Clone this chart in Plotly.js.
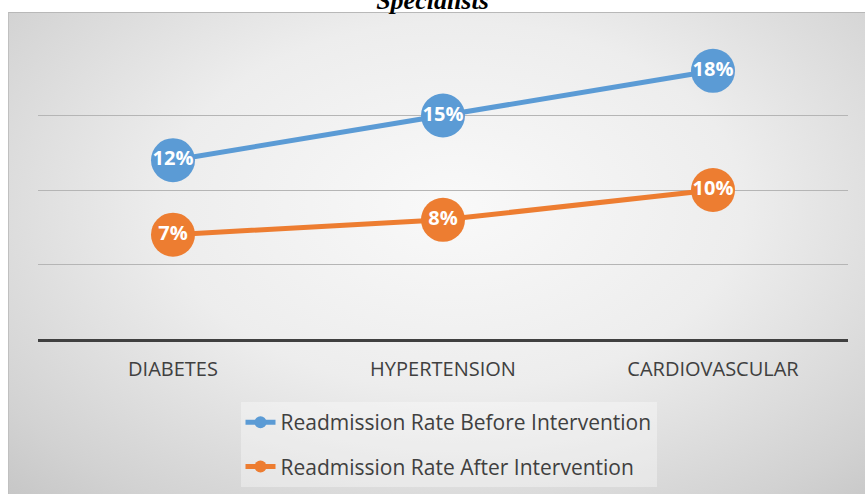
<!DOCTYPE html>
<html>
<head>
<meta charset="utf-8">
<script src="https://cdn.plot.ly/plotly-3.0.1.min.js"></script>
<style>
  html, body { margin: 0; padding: 0; background: #ffffff; }
  #wrap { position: relative; width: 865px; height: 494px; overflow: hidden; }
  #bg { position: absolute; left: 8px; top: 12px; width: 857px; height: 482px;
        background: radial-gradient(ellipse 75% 85% at 52% 40%, #f9f9f9 0%, #ededed 45%, #d2d2d2 85%, #c6c6c6 100%);
        border-top: 1px solid #b8b8b8; border-left: 1px solid #c0c0c0; box-sizing: border-box; }
  #chart { position: absolute; left: 0; top: 0; width: 865px; height: 494px; }
</style>
</head>
<body>
<div id="wrap">
  <div id="bg"></div>
  <div id="chart"></div>
</div>
<script>
const categories = ["DIABETES", "HYPERTENSION", "CARDIOVASCULAR"];
const beforeValues = [12, 15, 18];
const afterValues = [7, 8, 10];
const seriesNames = ["Readmission Rate Before Intervention", "Readmission Rate After Intervention"];
const titleText = "Specialists";

const labelFont = { family: "Open Sans, Lato, sans-serif", size: 20, color: "#ffffff", weight: 700 };

const traces = [
  {
    x: categories, y: beforeValues, name: seriesNames[0], type: "scatter",
    mode: "lines+markers+text", legendgroup: "a",
    line: { color: "#5B9BD5", width: 5 },
    marker: { color: "#5B9BD5", size: 44 },
    texttemplate: "<b>%{y}%</b>", textposition: "middle center",
    textfont: labelFont, cliponaxis: false
  },
  {
    x: categories, y: afterValues, name: seriesNames[1], type: "scatter",
    mode: "lines+markers+text", legendgroup: "b",
    line: { color: "#ED7D31", width: 5 },
    marker: { color: "#ED7D31", size: 44 },
    texttemplate: "<b>%{y}%</b>", textposition: "middle center",
    textfont: labelFont, cliponaxis: false
  }
];

const layout = {
  width: 865, height: 494,
  paper_bgcolor: "rgba(0,0,0,0)", plot_bgcolor: "rgba(0,0,0,0)",
  margin: { l: 38, r: 17, t: 41, b: 155, autoexpand: false },
  title: {
    text: "<b><i>" + titleText + "</i></b>",
    font: { family: "Liberation Serif, Times New Roman, serif", size: 26, color: "#000000" },
    x: 0.5, xanchor: "center", xref: "container",
    y: 1, yanchor: "middle", yref: "container"
  },
  xaxis: {
    type: "category", range: [-0.5, 2.5],
    showline: true, linecolor: "#404040", linewidth: 3,
    showgrid: false, zeroline: false,
    ticks: "outside", ticklen: 10, tickcolor: "rgba(0,0,0,0)",
    tickfont: { family: "Open Sans, sans-serif", size: 20, color: "#404040" },
    fixedrange: true
  },
  yaxis: {
    range: [0, 20], dtick: 5, tick0: 0,
    showticklabels: false, showline: false, zeroline: false,
    showgrid: true, gridcolor: "#b5b5b5", gridwidth: 1,
    fixedrange: true
  },
  showlegend: true,
  legend: {
    orientation: "v", x: 0.25, xanchor: "left", y: 0.186, yanchor: "top", yref: "container",
    bgcolor: "rgba(255,255,255,0.35)", borderwidth: 0,
    font: { family: "Open Sans, sans-serif", size: 21, color: "#404040" },
    tracegroupgap: 14, itemsizing: "constant"
  }
};

Plotly.newPlot("chart", traces, layout, { displayModeBar: false, staticPlot: true });
</script>
</body>
</html>
